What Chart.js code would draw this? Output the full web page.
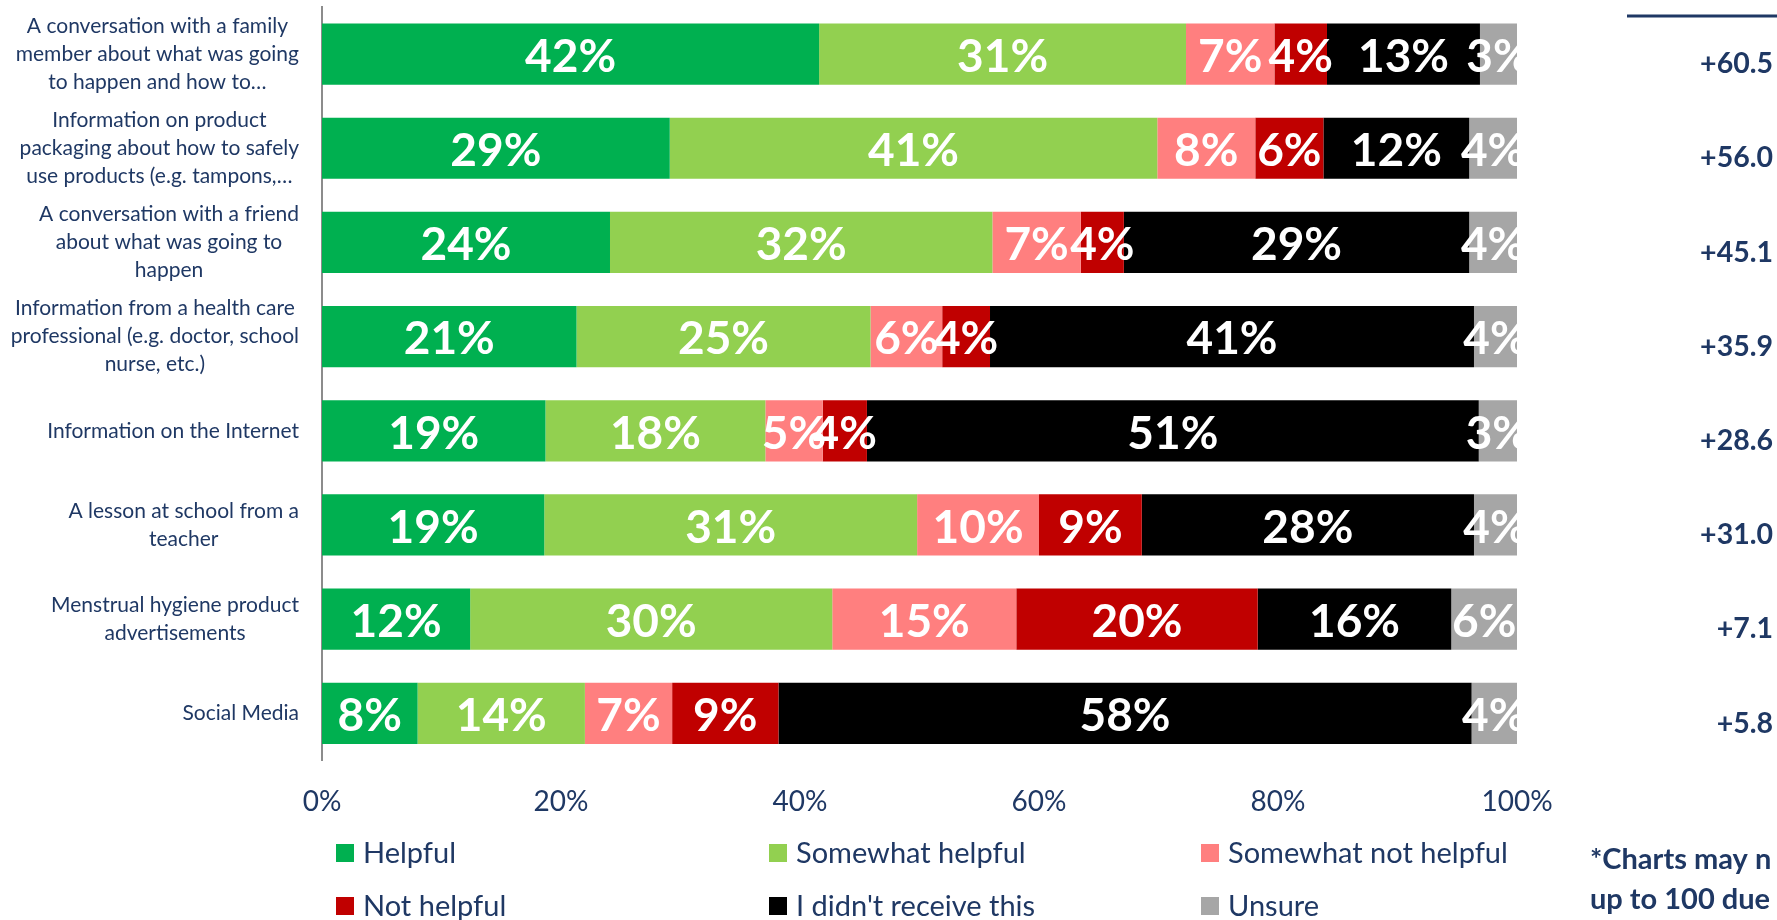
<!DOCTYPE html>
<html>
<head>
<meta charset="utf-8">
<script src="https://cdn.jsdelivr.net/npm/chart.js@4"></script>
<style>
  html, body { margin:0; padding:0; background:#fff; }
  #wrap { width:1777px; height:920px; }
</style>
</head>
<body>
<div id="wrap"><canvas id="chart" width="1777" height="920"></canvas></div>
<script>
// ---------------------------------------------------------------
// Data (percent of respondents)
// ---------------------------------------------------------------
const categories = [
  ['A conversation with a family', 'member about what was going', 'to happen and how to…'],
  ['Information on product', 'packaging about how to safely', 'use products (e.g. tampons,…'],
  ['A conversation with a friend', 'about what was going to', 'happen'],
  ['Information from a health care', 'professional (e.g. doctor, school', 'nurse, etc.)'],
  ['Information on the Internet'],
  ['A lesson at school from a', 'teacher'],
  ['Menstrual hygiene product', 'advertisements'],
  ['Social Media']
];

const helpful            = [41.6, 29.1, 24.1, 21.3, 18.7, 18.6, 12.4,  8.0];
const somewhatHelpful    = [30.7, 40.8, 32.0, 24.6, 18.4, 31.2, 30.3, 14.0];
const somewhatNotHelpful = [ 7.4,  8.2,  7.4,  6.0,  4.8, 10.2, 15.4,  7.3];
const notHelpful         = [ 4.4,  5.7,  3.6,  4.0,  3.7,  8.6, 20.2,  8.9];
const notReceived        = [12.8, 12.2, 28.9, 40.5, 51.2, 27.8, 16.2, 58.0];
const unsure             = [ 3.1,  4.0,  4.0,  3.6,  3.2,  3.6,  5.5,  3.8];

const netScores = ['+60.5', '+56.0', '+45.1', '+35.9', '+28.6', '+31.0', '+7.1', '+5.8'];
const xTicks = [0, 20, 40, 60, 80, 100];

const seriesNames  = ['Helpful', 'Somewhat helpful', 'Somewhat not helpful', 'Not helpful', "I didn't receive this", 'Unsure'];
const seriesColors = ['#00B050', '#92D050', '#FF7F7F', '#C00000', '#000000', '#A6A6A6'];
const seriesValues = [helpful, somewhatHelpful, somewhatNotHelpful, notHelpful, notReceived, unsure];

const footnote = ['*Charts may n', 'up to 100 due'];

const NAVY = '#1F3864';
Chart.defaults.font.family = 'Lato, "Open Sans", sans-serif';

// ---------------------------------------------------------------
// Extra drawing: bar labels, category labels, net scores, legend
// ---------------------------------------------------------------
const decorPlugin = {
  id: 'decor',
  afterDatasetsDraw(chart){
    const ctx = chart.ctx;
    const area = chart.chartArea;
    const yScale = chart.scales.y;

    // value labels inside segments (clipped at the plot edge)
    ctx.save();
    ctx.beginPath();
    ctx.rect(area.left, area.top, area.right - area.left, area.bottom - area.top);
    ctx.clip();
    ctx.fillStyle = '#fff';
    ctx.font = 'bold 46px Lato';
    ctx.textAlign = 'center';
    ctx.textBaseline = 'middle';
    chart.data.datasets.forEach((ds, i) => {
      const meta = chart.getDatasetMeta(i);
      meta.data.forEach((bar, j) => {
        const cx = (bar.x + bar.base) / 2;
        ctx.fillText(Math.round(ds.data[j]) + '%', cx, bar.y + 3);
      });
    });
    ctx.restore();

    // category labels: block right-aligned, lines centred
    ctx.save();
    ctx.fillStyle = NAVY;
    ctx.font = '21px Lato';
    ctx.textAlign = 'center';
    ctx.textBaseline = 'middle';
    const lineH = 28;
    const rightEdge = 299;
    categories.forEach((lines, j) => {
      const y = yScale.getPixelForValue(j);
      const w = Math.max(...lines.map(l => ctx.measureText(l).width));
      const cx = rightEdge - w / 2;
      const y0 = y - (lines.length - 1) * lineH / 2;
      lines.forEach((l, k) => ctx.fillText(l, cx, y0 + k * lineH));
    });
    ctx.restore();

    // net score column
    ctx.save();
    ctx.strokeStyle = NAVY;
    ctx.lineWidth = 3;
    ctx.beginPath();
    ctx.moveTo(1627, 16);
    ctx.lineTo(1777, 16);
    ctx.stroke();
    ctx.fillStyle = NAVY;
    ctx.font = 'bold 28.5px Lato';
    ctx.textAlign = 'right';
    ctx.textBaseline = 'middle';
    netScores.forEach((s, j) => {
      ctx.fillText(s, 1773, yScale.getPixelForValue(j) + 10);
    });
    ctx.restore();

    // legend (3 columns x 2 rows)
    ctx.save();
    ctx.font = '29px Lato';
    ctx.textBaseline = 'middle';
    ctx.textAlign = 'left';
    const colX = [336, 769, 1201];
    const rowY = [853, 906];
    chart.data.datasets.forEach((ds, i) => {
      const x = colX[i % 3], y = rowY[Math.floor(i / 3)];
      ctx.fillStyle = ds.backgroundColor;
      ctx.fillRect(x, y - 9, 18, 18);
      ctx.fillStyle = NAVY;
      ctx.fillText(ds.label, x + 27, y + 1);
    });
    ctx.restore();

    // footnote (cut off at the right edge)
    ctx.save();
    ctx.fillStyle = NAVY;
    ctx.font = 'bold 29px Lato';
    ctx.textAlign = 'left';
    ctx.textBaseline = 'middle';
    ctx.fillText(footnote[0], 1590, 860);
    ctx.fillText(footnote[1], 1590, 900);
    ctx.restore();
  }
};

new Chart(document.getElementById('chart'), {
  type: 'bar',
  data: {
    labels: categories,
    datasets: seriesValues.map((vals, i) => ({
      label: seriesNames[i],
      data: vals,
      backgroundColor: seriesColors[i],
      borderWidth: 0,
      categoryPercentage: 1,
      barPercentage: 0.65
    }))
  },
  options: {
    indexAxis: 'y',
    responsive: false,
    animation: false,
    layout: { padding: { left: 314, right: 260, top: 7, bottom: 84 } },
    plugins: { legend: { display: false }, tooltip: { enabled: false } },
    scales: {
      x: {
        stacked: true,
        min: 0,
        max: 100,
        afterBuildTicks: s => { s.ticks = xTicks.map(v => ({ value: v })); },
        grid: { display: false },
        border: { display: false },
        ticks: {
          color: NAVY,
          padding: 17,
          maxRotation: 0,
          font: { size: 28 },
          callback: v => v + '%'
        }
      },
      y: {
        stacked: true,
        grid: { display: false },
        border: { display: true, color: '#8C8C8C', width: 2 },
        ticks: { display: false }
      }
    }
  },
  plugins: [decorPlugin]
});
</script>
</body>
</html>
